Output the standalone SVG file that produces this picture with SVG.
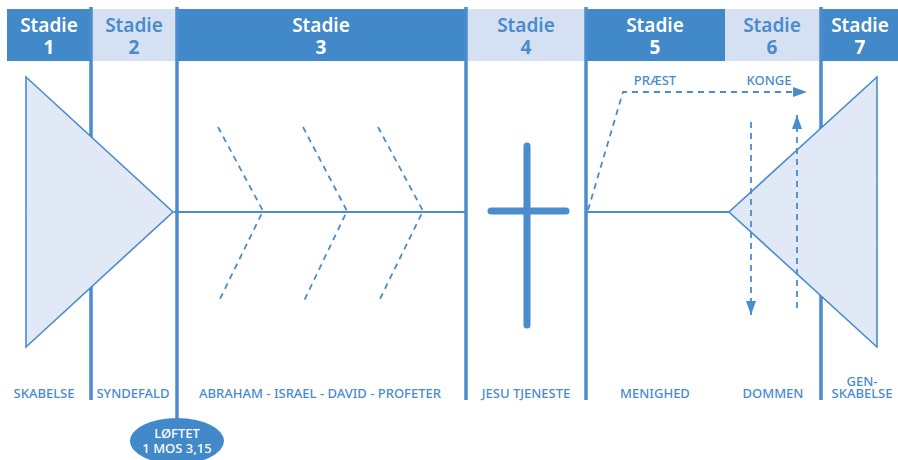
<svg xmlns="http://www.w3.org/2000/svg" width="898" height="460" viewBox="0 0 898 460">
<style>
.dark{fill:#4289c9}
.light{fill:#d5e1f2}
.ht{font-family:"Noto Sans","Open Sans",sans-serif;font-size:19px;font-weight:600;text-anchor:middle}
.hn{font-family:"Noto Sans","Open Sans",sans-serif;font-size:19px;font-weight:700;text-anchor:middle}
.w{fill:#ffffff}
.b{fill:#4a8bcb}
.lbl{font-family:"Noto Sans","Open Sans",sans-serif;font-size:13px;font-weight:500;text-anchor:middle;fill:#4a8bcb}
.sep{stroke:#4a8ccc;stroke-width:3.5;fill:none}
.axis{stroke:#4a8ccc;stroke-width:2;fill:none}
.dash{stroke:#4a8ccc;stroke-width:1.8;fill:none;stroke-dasharray:6 5}
.tri{fill:#e1e9f6;stroke:#4a8ccc;stroke-width:1.6}
</style>
<defs>
<marker id="ah" viewBox="0 0 14 10" refX="14" refY="5" markerWidth="14" markerHeight="10" markerUnits="userSpaceOnUse" orient="auto">
<path d="M0,0 L14,5 L0,10 Z" fill="#4a8ccc"/>
</marker>
</defs>
<rect width="898" height="460" fill="#ffffff"/>
<g id="header">
<rect class="dark" x="7" y="9" width="84" height="52"/>
<rect class="light" x="91" y="9" width="86" height="52"/>
<rect class="dark" x="177" y="9" width="289" height="52"/>
<rect class="light" x="466" y="9" width="120" height="52"/>
<rect class="dark" x="586" y="9" width="139" height="52"/>
<rect class="light" x="725" y="9" width="95" height="52"/>
<rect class="dark" x="820" y="9" width="78" height="52"/>
<text class="ht w" x="49" y="32">Stadie</text><text class="hn w" x="49" y="54">1</text>
<text class="ht b" x="134" y="32">Stadie</text><text class="hn b" x="134" y="54">2</text>
<text class="ht w" x="321" y="32">Stadie</text><text class="hn w" x="321" y="54">3</text>
<text class="ht b" x="526" y="32">Stadie</text><text class="hn b" x="526" y="54">4</text>
<text class="ht w" x="655" y="32">Stadie</text><text class="hn w" x="655" y="54">5</text>
<text class="ht b" x="772" y="32">Stadie</text><text class="hn b" x="772" y="54">6</text>
<text class="ht w" x="860" y="32">Stadie</text><text class="hn w" x="860" y="54">7</text>
</g>
<g id="separators">
<line class="sep" x1="91" y1="7" x2="91" y2="400"/>
<line class="sep" x1="177" y1="7" x2="177" y2="420"/>
<line class="sep" x1="466" y1="7" x2="466" y2="400"/>
<line class="sep" x1="586" y1="7" x2="586" y2="400"/>
<line class="sep" x1="821" y1="7" x2="821" y2="400"/>
</g>
<g id="skabelse-triangle">
<polygon class="tri" points="26,77 26,347 173,212"/>
</g>
<g id="genskabelse-triangle">
<polygon class="tri" points="877,77 877,347 729,212"/>
</g>
<g id="cross">
<line x1="527" y1="146" x2="527" y2="325" stroke="#4a8ccc" stroke-width="7" stroke-linecap="round"/>
<line x1="491" y1="211" x2="566" y2="211" stroke="#4a8ccc" stroke-width="7" stroke-linecap="round"/>
</g>
<g id="connectors">
<line class="axis" x1="174" y1="212" x2="466" y2="212"/>
<line class="axis" x1="586" y1="212" x2="729" y2="212"/>
<polyline class="dash" points="218,127 263,211 218,303"/>
<polyline class="dash" points="303,127 347,211 303,303"/>
<polyline class="dash" points="378,127 423,211 378,303"/>
<polyline class="dash" points="588,210 623,92 807,92" marker-end="url(#ah)"/>
<line class="dash" x1="751" y1="122" x2="751" y2="315" marker-end="url(#ah)"/>
<line class="dash" x1="797" y1="308" x2="797" y2="115" marker-end="url(#ah)"/>
</g>
<g id="labels">
<text class="lbl" x="655" y="85">PRÆST</text>
<text class="lbl" x="769" y="85">KONGE</text>
<text class="lbl" x="44" y="398">SKABELSE</text>
<text class="lbl" x="133" y="398">SYNDEFALD</text>
<text class="lbl" x="320" y="398">ABRAHAM - ISRAEL - DAVID - PROFETER</text>
<text class="lbl" x="526" y="398">JESU TJENESTE</text>
<text class="lbl" x="655" y="398">MENIGHED</text>
<text class="lbl" x="773" y="398">DOMMEN</text>
<text class="lbl" x="862" y="386">GEN-</text>
<text class="lbl" x="862" y="398">SKABELSE</text>
</g>
<g id="loftet">
<ellipse cx="177" cy="441" rx="47" ry="23" fill="#4289c9"/>
<text class="lbl" x="177" y="438" style="fill:#ffffff">LØFTET</text>
<text class="lbl" x="177" y="453" style="fill:#ffffff">1 MOS 3,15</text>
</g>
</svg>
